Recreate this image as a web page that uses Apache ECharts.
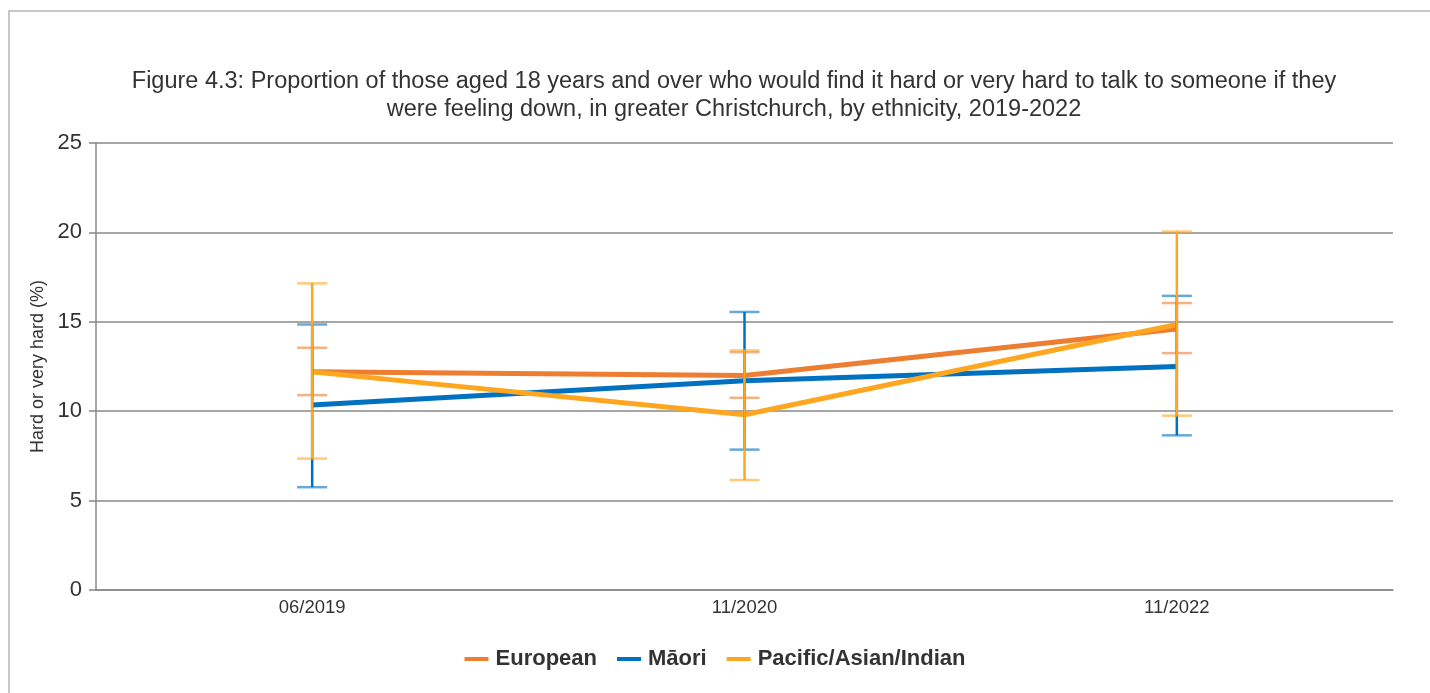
<!DOCTYPE html>
<html>
<head>
<meta charset="utf-8">
<script src="https://cdn.jsdelivr.net/npm/echarts@6/dist/echarts.min.js"></script>
<style>
html,body{margin:0;padding:0;background:#fff;}
#frame{position:absolute;left:8px;top:10px;width:1430px;height:700px;border-top:2px solid #c8c8c8;border-left:2px solid #c8c8c8;}
#chart{position:absolute;left:0;top:0;width:1430px;height:693px;}
</style>
</head>
<body>
<div id="frame"></div>
<div id="chart"></div>
<script>
const categories = ['06/2019', '11/2020', '11/2022'];
const seriesNames = ['European', 'Māori', 'Pacific/Asian/Indian'];
const european = [12.2, 12.0, 14.6];
const europeanLow = [10.9, 10.75, 13.25];
const europeanHigh = [13.55, 13.3, 16.05];
const maori = [10.35, 11.7, 12.5];
const maoriLow = [5.75, 7.85, 8.65];
const maoriHigh = [14.85, 15.55, 16.45];
const pacific = [12.2, 9.8, 14.85];
const pacificLow = [7.35, 6.15, 9.75];
const pacificHigh = [17.15, 13.4, 20.05];
const colors = ['#ED7D31', '#0070C0', '#FFA620'];

const chart = echarts.init(document.getElementById('chart'));
const FONT = '"Liberation Sans", Arial, sans-serif';

function errorSeries(idx, low, high) {
  return {
    type: 'custom',
    name: seriesNames[idx],
    z: 5 + idx,
    data: categories.map((c, i) => [i, low[i], high[i]]),
    encode: { x: 0, y: [1, 2] },
    silent: true,
    renderItem: function (params, api) {
      const x = api.value(0);
      const lo = api.coord([x, api.value(1)]);
      const hi = api.coord([x, api.value(2)]);
      const hw = 15;
      const col = colors[idx];
      return {
        type: 'group',
        children: [
          { type: 'line', shape: { x1: lo[0], y1: lo[1], x2: hi[0], y2: hi[1] }, style: { stroke: col, lineWidth: 2.5 } },
          { type: 'line', shape: { x1: lo[0] - hw, y1: lo[1], x2: lo[0] + hw, y2: lo[1] }, style: { stroke: col, lineWidth: 2.5, opacity: 0.6 } },
          { type: 'line', shape: { x1: hi[0] - hw, y1: hi[1], x2: hi[0] + hw, y2: hi[1] }, style: { stroke: col, lineWidth: 2.5, opacity: 0.6 } }
        ]
      };
    }
  };
}

function lineSeries(idx, data) {
  return {
    type: 'line',
    name: seriesNames[idx],
    data: data,
    z: 2 + idx,
    symbol: 'none',
    lineStyle: { width: 5, color: colors[idx] },
    itemStyle: { color: colors[idx] }
  };
}

chart.setOption({
  animation: false,
  color: colors,
  title: {
    text: 'Figure 4.3: Proportion of those aged 18 years and over who would find it hard or very hard to talk to someone if they\nwere feeling down, in greater Christchurch, by ethnicity, 2019-2022',
    left: 729,
    textAlign: 'center',
    top: 63,
    textStyle: { fontFamily: FONT, fontSize: 23.5, fontWeight: 'normal', color: '#333', lineHeight: 28 }
  },
  legend: {
    data: seriesNames.map((n, i) => ({ name: n, icon: 'rect', itemStyle: { color: colors[i] } })),
    top: 643,
    left: 'center',
    itemWidth: 24,
    itemHeight: 4,
    itemGap: 20,
    textStyle: { fontFamily: FONT, fontSize: 22, fontWeight: 'bold', color: '#333', padding: [0, 0, 0, 2] }
  },
  grid: { left: 96, right: 37, top: 143, bottom: 103, containLabel: false },
  xAxis: {
    type: 'category',
    data: categories,
    boundaryGap: true,
    axisLine: { lineStyle: { color: '#888', width: 1.5 } },
    axisTick: { alignWithLabel: true, length: 6, lineStyle: { color: '#888', width: 1.5 } },
    axisLabel: { fontFamily: FONT, fontSize: 18.5, color: '#333', margin: 8 },
    splitLine: { show: false }
  },
  yAxis: {
    type: 'value',
    min: 0,
    max: 25,
    interval: 5,
    name: 'Hard or very hard (%)',
    nameLocation: 'middle',
    nameGap: 35,
    nameTextStyle: { fontFamily: FONT, fontSize: 18, color: '#333' },
    axisLine: { show: true, lineStyle: { color: '#888', width: 1.5 } },
    axisTick: { show: true, length: 7, lineStyle: { color: '#888', width: 1.5 } },
    axisLabel: { fontFamily: FONT, fontSize: 22, color: '#333', margin: 14 },
    splitLine: { lineStyle: { color: '#888', width: 1.5 } }
  },
  series: [
    lineSeries(0, european),
    lineSeries(1, maori),
    lineSeries(2, pacific),
    errorSeries(0, europeanLow, europeanHigh),
    errorSeries(1, maoriLow, maoriHigh),
    errorSeries(2, pacificLow, pacificHigh)
  ]
});
</script>
</body>
</html>
